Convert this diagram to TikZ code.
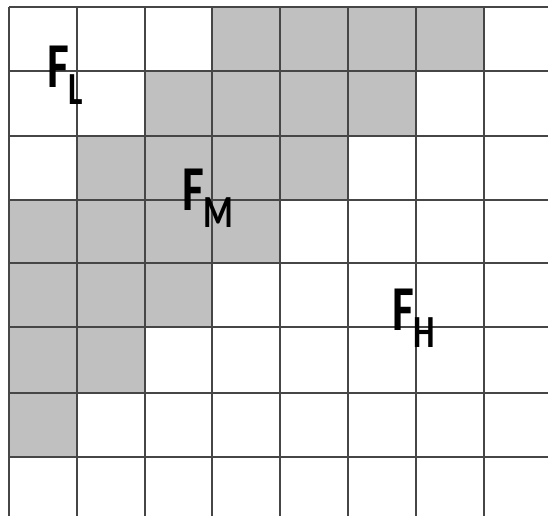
\documentclass[tikz,border=0pt]{standalone}
\usepackage{fontspec}
\newfontfamily\lblfont{Carlito}
\definecolor{cellgray}{RGB}{192,192,192}
\definecolor{gridline}{RGB}{70,70,70}
\newcommand{\flabel}[1]{\scalebox{0.74}[1]{\lblfont\bfseries\fontsize{64}{64}\selectfont F\raisebox{-17pt}{\fontsize{46}{46}\selectfont #1}}}
\begin{document}
\begin{tikzpicture}[x=1pt,y=-1pt]
\useasboundingbox (0,0) rectangle (548,516);
% shaded cells
\fill[cellgray] (212,7) rectangle (484,71);
\fill[cellgray] (145,71) rectangle (416,136);
\fill[cellgray] (77,136) rectangle (348,200);
\fill[cellgray] (9,200) rectangle (280,263);
\fill[cellgray] (9,263) rectangle (212,327);
\fill[cellgray] (9,327) rectangle (145,393);
\fill[cellgray] (9,393) rectangle (77,457);
% grid
\foreach \x in {9,77,145,212,280,348,416,484} \draw[gridline,line width=1.8pt] (\x,7)--(\x,516);
\foreach \y in {7,71,136,200,263,327,393,457} \draw[gridline,line width=1.8pt] (9,\y)--(548,\y);
% labels
\node[anchor=base west,inner sep=0pt] (fl) at (47,88) {\flabel{L}};
\node[anchor=base west,inner sep=0pt] (fm) at (182,210) {\flabel{M}};
\node[anchor=base west,inner sep=0pt] (fh) at (392,330) {\flabel{H}};
\end{tikzpicture}
\end{document}
